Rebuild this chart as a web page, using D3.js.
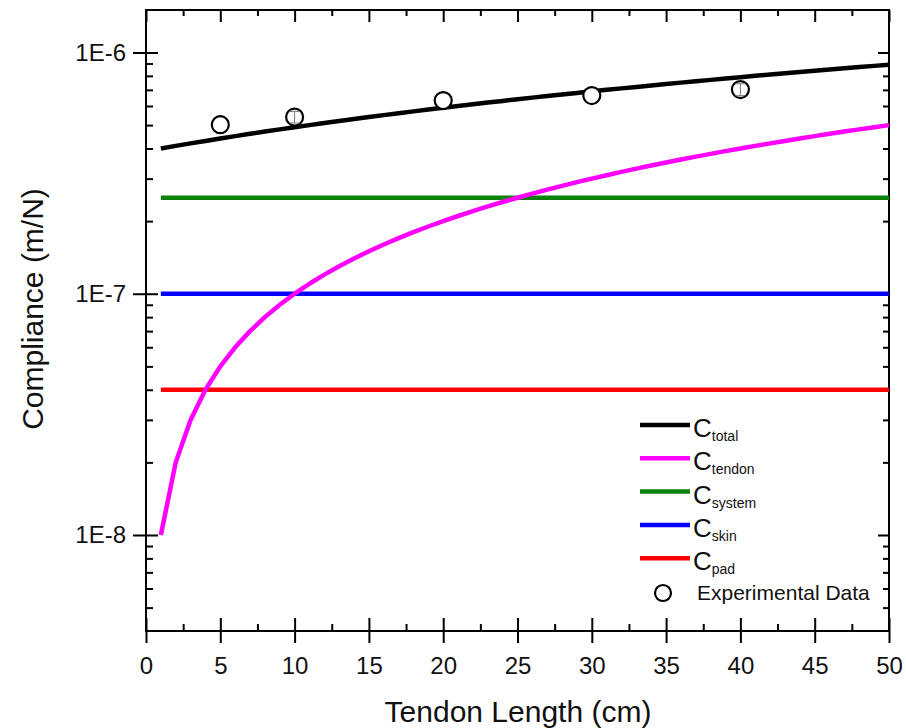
<!DOCTYPE html>
<html>
<head>
<meta charset="utf-8">
<script src="https://cdn.jsdelivr.net/npm/d3@7"></script>
<style>
  html, body { margin: 0; padding: 0; background: #fff; }
  svg { display: block; font-family: "Liberation Sans", Arial, sans-serif; }
</style>
</head>
<body>
<svg id="chart" width="906" height="728"></svg>
<script>
// ---------------- data ----------------
const lengths = [1,2,3,4,5,6,7,8,9,10,11,12,13,14,15,16,17,18,19,20,21,22,23,24,25,
                 26,27,28,29,30,31,32,33,34,35,36,37,38,39,40,41,42,43,44,45,46,47,48,49,50];
const cTendon = [1.0e-8,2.0e-8,3.0e-8,4.0e-8,5.0e-8,6.0e-8,7.0e-8,8.0e-8,9.0e-8,1.0e-7,
                 1.1e-7,1.2e-7,1.3e-7,1.4e-7,1.5e-7,1.6e-7,1.7e-7,1.8e-7,1.9e-7,2.0e-7,
                 2.1e-7,2.2e-7,2.3e-7,2.4e-7,2.5e-7,2.6e-7,2.7e-7,2.8e-7,2.9e-7,3.0e-7,
                 3.1e-7,3.2e-7,3.3e-7,3.4e-7,3.5e-7,3.6e-7,3.7e-7,3.8e-7,3.9e-7,4.0e-7,
                 4.1e-7,4.2e-7,4.3e-7,4.4e-7,4.5e-7,4.6e-7,4.7e-7,4.8e-7,4.9e-7,5.0e-7];
const cTotal  = [4.0e-7,4.1e-7,4.2e-7,4.3e-7,4.4e-7,4.5e-7,4.6e-7,4.7e-7,4.8e-7,4.9e-7,
                 5.0e-7,5.1e-7,5.2e-7,5.3e-7,5.4e-7,5.5e-7,5.6e-7,5.7e-7,5.8e-7,5.9e-7,
                 6.0e-7,6.1e-7,6.2e-7,6.3e-7,6.4e-7,6.5e-7,6.6e-7,6.7e-7,6.8e-7,6.9e-7,
                 7.0e-7,7.1e-7,7.2e-7,7.3e-7,7.4e-7,7.5e-7,7.6e-7,7.7e-7,7.8e-7,7.9e-7,
                 8.0e-7,8.1e-7,8.2e-7,8.3e-7,8.4e-7,8.5e-7,8.6e-7,8.7e-7,8.8e-7,8.9e-7];
const constLengths = [1, 50];
const cSystem = [2.5e-7, 2.5e-7];
const cSkin   = [1.0e-7, 1.0e-7];
const cPad    = [4.0e-8, 4.0e-8];

const expLengths = [5, 10, 20, 30, 40];
const expValues  = [5.02e-7, 5.40e-7, 6.32e-7, 6.63e-7, 7.02e-7];
const expErrors  = [0, 0.3e-7, 0, 0, 0.4e-7];

const xMajorTicks = [0,5,10,15,20,25,30,35,40,45,50];
const xMinorTicks = [2.5,7.5,12.5,17.5,22.5,27.5,32.5,37.5,42.5,47.5];
const yMajorTicks = [1e-8, 1e-7, 1e-6];
const yMajorLabels = ["1E-8", "1E-7", "1E-6"];
const yMinorMultipliers = [2,3,4,5,6,7,8,9];
const yMinorDecades = [1e-9, 1e-8, 1e-7];

const legendItems = [
  {sub: "total",  color: "#000000"},
  {sub: "tendon", color: "#ff00ff"},
  {sub: "system", color: "#0a820a"},
  {sub: "skin",   color: "#0000ff"},
  {sub: "pad",    color: "#ff0000"}
];

// ---------------- layout ----------------
const svg = d3.select("#chart");
const L = 146, R = 889, T = 10, B = 631;

const x = d3.scaleLinear().domain([0, 50]).range([L, R]);
const y = d3.scaleLog().domain([4e-9, 1.5e-6]).range([B, T]);

const yMinorTicks = [];
yMinorDecades.forEach(d => yMinorMultipliers.forEach(m => {
  const v = d * m;
  if (v > 4e-9 && v < 1.5e-6) yMinorTicks.push(v);
}));

function styleAxis(g) {
  g.select(".domain").remove();
  g.selectAll("line").attr("stroke", "#000").attr("stroke-width", 2);
  g.selectAll("text").attr("fill", "#111").style("font-family", "'Liberation Sans', Arial, sans-serif");
}

// bottom axis major (crossing ticks)
const gb = svg.append("g").attr("transform", `translate(0,${B})`)
  .call(d3.axisBottom(x).tickValues(xMajorTicks).tickSize(12).tickPadding(14).tickFormat(d3.format("d")));
styleAxis(gb);
gb.selectAll(".tick line").attr("y1", -13).attr("y2", 12);
gb.selectAll("text").style("font-size", "24px");
// bottom minor
const gbm = svg.append("g").attr("transform", `translate(0,${B})`)
  .call(d3.axisBottom(x).tickValues(xMinorTicks).tickSize(-7).tickFormat(""));
styleAxis(gbm);

// top axis
const gt = svg.append("g").attr("transform", `translate(0,${T})`)
  .call(d3.axisTop(x).tickValues(xMajorTicks).tickSize(-12).tickFormat(""));
styleAxis(gt);
const gtm = svg.append("g").attr("transform", `translate(0,${T})`)
  .call(d3.axisTop(x).tickValues(xMinorTicks).tickSize(-6).tickFormat(""));
styleAxis(gtm);

// left axis
const gl = svg.append("g").attr("transform", `translate(${L},0)`)
  .call(d3.axisLeft(y).tickValues(yMajorTicks).tickSize(13).tickPadding(7)
    .tickFormat((d, i) => yMajorLabels[i]));
styleAxis(gl);
gl.selectAll(".tick line").attr("x1", 12).attr("x2", -13);
gl.selectAll("text").style("font-size", "24px");
const glm = svg.append("g").attr("transform", `translate(${L},0)`)
  .call(d3.axisLeft(y).tickValues(yMinorTicks).tickSize(-7).tickFormat(""));
styleAxis(glm);

// right axis
const gr = svg.append("g").attr("transform", `translate(${R},0)`)
  .call(d3.axisRight(y).tickValues(yMajorTicks).tickSize(-11).tickFormat(""));
styleAxis(gr);
const grm = svg.append("g").attr("transform", `translate(${R},0)`)
  .call(d3.axisRight(y).tickValues(yMinorTicks).tickSize(-6).tickFormat(""));
styleAxis(grm);

// frame
svg.append("rect").attr("x", L).attr("y", T).attr("width", R - L).attr("height", B - T)
  .attr("fill", "none").attr("stroke", "#000").attr("stroke-width", 2);

// ---------------- series ----------------
const line = d3.line().x(d => x(d[0])).y(d => y(d[1]));
function drawSeries(xs, ys, color) {
  svg.append("path").datum(xs.map((v, i) => [v, ys[i]]))
    .attr("d", line).attr("fill", "none").attr("stroke", color)
    .attr("stroke-width", 4.5).attr("stroke-linejoin", "round");
}
drawSeries(constLengths, cPad, legendItems[4].color);
drawSeries(constLengths, cSkin, legendItems[3].color);
drawSeries(constLengths, cSystem, legendItems[2].color);
drawSeries(lengths, cTendon, legendItems[1].color);
drawSeries(lengths, cTotal, legendItems[0].color);

// experimental points
const exp = svg.append("g");
expLengths.forEach((lx, i) => {
  const cx = x(lx), cy = y(expValues[i]);
  exp.append("circle").attr("cx", cx).attr("cy", cy).attr("r", 8.5)
    .attr("fill", "#fff").attr("stroke", "#000").attr("stroke-width", 2.2);
  if (expErrors[i] > 0) {
    const y1 = y(expValues[i] + expErrors[i]), y2 = y(expValues[i] - expErrors[i]);
    exp.append("line").attr("x1", cx).attr("x2", cx).attr("y1", y1).attr("y2", y2)
      .attr("stroke", "#777").attr("stroke-width", 1);
    [y1, y2].forEach(yy => exp.append("line").attr("x1", cx - 5).attr("x2", cx + 5)
      .attr("y1", yy).attr("y2", yy).attr("stroke", "#777").attr("stroke-width", 1));
  }
});

// ---------------- legend ----------------
const lg = svg.append("g");
const legY0 = 425, legDy = 33.3;
legendItems.forEach((item, i) => {
  const ly = legY0 + i * legDy;
  lg.append("line").attr("x1", 640).attr("x2", 690).attr("y1", ly).attr("y2", ly)
    .attr("stroke", item.color).attr("stroke-width", 4.5);
  const t = lg.append("text").attr("x", 693).attr("y", ly + 12).attr("fill", "#111")
    .style("font-size", "26px");
  t.append("tspan").text("C");
  t.append("tspan").attr("dy", 4).style("font-size", "14px").text(item.sub);
});
lg.append("circle").attr("cx", 663).attr("cy", 593).attr("r", 8)
  .attr("fill", "#fff").attr("stroke", "#000").attr("stroke-width", 2.2);
lg.append("text").attr("x", 697).attr("y", 600).attr("fill", "#111")
  .style("font-size", "21px").text("Experimental Data");

// ---------------- titles ----------------
svg.append("text").attr("x", 518).attr("y", 722).attr("text-anchor", "middle")
  .attr("fill", "#111").style("font-size", "30px").text("Tendon Length (cm)");
svg.append("text").attr("transform", "translate(43,309) rotate(-90)")
  .attr("text-anchor", "middle").attr("fill", "#111").style("font-size", "30px")
  .text("Compliance (m/N)");
</script>
</body>
</html>
